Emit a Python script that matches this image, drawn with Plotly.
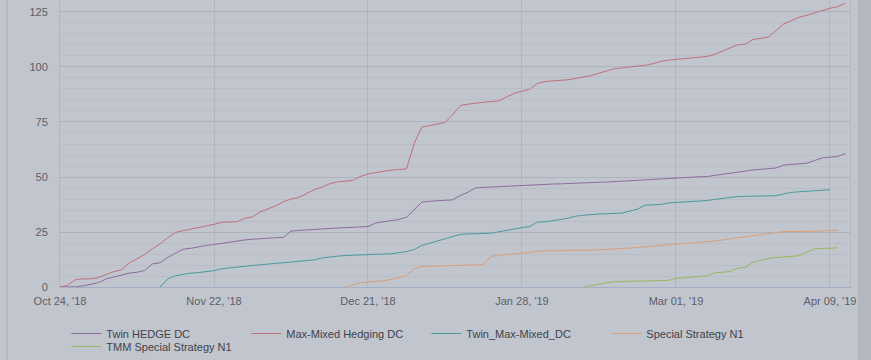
import plotly.graph_objects as go

# ---- data (ordinal axis: one point per observation index) ----
TICK_POS = [0, 20, 40, 60, 80, 100]
TICK_LABELS = ["Oct 24, '18", "Nov 22, '18", "Dec 21, '18", "Jan 28, '19", "Mar 01, '19", "Apr 09, '19"]

SERIES_NAMES = ["Twin HEDGE DC", "Max-Mixed Hedging DC", "Twin_Max-Mixed_DC",
                "Special Strategy N1", "TMM Special Strategy N1"]
SERIES_COLORS = ["#8d6c9f", "#c0707a", "#4a9a9c", "#d9a07a", "#98b85e"]
LEGEND_ROW = ["legend", "legend", "legend", "legend", "legend2"]

twin_hedge_start = 0
twin_hedge = [0, 0, 0.1, 0.5, 1.1, 2, 3.7, 4.6, 5.2, 6.3, 6.7, 7.5, 10.5, 11, 13.5, 15.4, 17.2, 17.6,
              18.4, 18.9, 19.3, 19.9, 20.5, 21.1, 21.4, 21.7, 22, 22.2, 22.4, 22.5, 25.4, 25.7, 26,
              26.2, 26.4, 26.6, 26.8, 27, 27.2, 27.3, 27.5, 29.1, 29.6, 30, 30.7, 31.7, 35, 38.6, 39,
              39.2, 39.4, 39.6, 41.6, 43.1, 45.1, 45.3, 45.5, 45.7, 45.9, 46.1, 46.3, 46.4, 46.6,
              46.7, 46.8, 46.9, 47.1, 47.3, 47.4, 47.5, 47.6, 47.7, 47.9, 48.2, 48.5, 48.8, 49,
              49.2, 49.3, 49.5, 49.6, 49.8, 49.9, 50.1, 50.2, 50.7, 51.3, 51.8, 52.4, 52.8, 53.2,
              53.5, 53.8, 54.1, 55.4, 55.7, 56, 56.3, 57.5, 58.7, 59, 59.3, 60.7]

max_mixed_start = 0
max_mixed = [0, 0.8, 3.3, 3.7, 3.7, 4.3, 5.7, 7, 7.8, 11, 12.8, 14.8, 17.4, 19.6, 22.4, 24.8, 25.6,
             26.3, 26.9, 27.7, 28.5, 29.4, 29.6, 29.7, 31.2, 31.9, 34.1, 35.4, 36.9, 38.7, 40,
             40.7, 42.4, 44.2, 45.4, 46.9, 47.8, 48, 48.4, 50.2, 51.4, 52, 52.6, 53.1, 53.4, 53.7,
             65.2, 72.8, 73.3, 74, 74.8, 78.3, 82.5, 83.1, 83.7, 84, 84.3, 84.6, 86.4, 88, 89,
             89.9, 92.5, 93.4, 93.7, 93.9, 94.2, 94.8, 95.4, 96.1, 97.2, 98.1, 99.2, 99.6, 99.9,
             100.4, 100.8, 101.5, 102.5, 103.1, 103.4, 103.7, 104, 104.5, 104.8, 105.7, 107.2,
             108.5, 110.1, 110.4, 112.5, 113, 113.6, 116.6, 119.6, 121.1, 122.6, 123.5, 124.6,
             125.7, 126.7, 127.4, 129]

twin_max_start = 13
twin_max = [0, 3.7, 5.1, 5.8, 6.3, 6.6, 6.9, 7.4, 8.3, 8.7, 9.3, 9.6, 9.8, 10.1, 10.4, 10.7, 10.8,
            11.1, 11.5, 11.9, 12.3, 13.2, 13.7, 14, 14.3, 14.5, 14.7, 14.8, 14.9, 15, 15.1, 15.5,
            16.1, 17, 18.9, 19.9, 20.9, 22, 23, 23.9, 24.1, 24.2, 24.4, 24.5, 25.1, 25.8, 26.5,
            27, 27.5, 29.5, 29.7, 30, 30.6, 31.3, 32.2, 32.6, 33, 33.2, 33.3, 33.4, 33.6, 34.5,
            35.4, 37.2, 37.3, 37.5, 38.2, 38.4, 38.6, 38.9, 39.1, 39.3, 39.8, 40.3, 40.7, 41.1,
            41.2, 41.3, 41.3, 41.4, 41.5, 42.3, 43, 43.3, 43.6, 43.8, 44, 44.2]

special_start = 37
special = [0, 1, 2, 2.2, 2.4, 2.8, 3.4, 4.2, 5.2, 8.3, 9.3, 9.4, 9.5, 9.6, 9.7, 9.8, 9.9, 10,
           10.2, 14, 14.4, 14.7, 15.1, 15.6, 16, 16.4, 16.5, 16.5, 16.5, 16.6, 16.6, 16.7, 16.8,
           16.9, 17, 17.2, 17.5, 17.7, 18, 18.3, 18.5, 18.8, 19, 19.2, 19.5, 19.8, 20.1, 20.4,
           20.9, 21.4, 21.9, 22.4, 22.9, 23.3, 23.7, 24.2, 24.7, 25.2, 25.2, 25.2, 25.2, 25.3,
           25.4, 25.6, 25.8]

tmm_start = 68
tmm = [0, 0.7, 1.4, 1.9, 2.4, 2.5, 2.6, 2.7, 2.8, 2.8, 2.9, 3, 3.9, 4.2, 4.5, 4.8, 5.1, 6.4, 6.7,
       7, 8.6, 8.9, 11.3, 12.2, 12.9, 13.4, 13.7, 14, 14.2, 15.8, 17.4, 17.5, 17.6, 17.8]

SERIES = [(twin_hedge_start, twin_hedge), (max_mixed_start, max_mixed),
          (twin_max_start, twin_max), (special_start, special), (tmm_start, tmm)]

BG = "#c1c5cd"
FONT = "Liberation Sans, Arial, sans-serif"

fig = go.Figure()
for name, color, leg, (start, vals) in zip(SERIES_NAMES, SERIES_COLORS, LEGEND_ROW, SERIES):
    fig.add_trace(go.Scatter(
        x=list(range(start, start + len(vals))), y=vals, name=name, mode="lines",
        line=dict(color=color, width=1), legend=leg, hoverinfo="x+y+name"))

legend_style = dict(orientation="h", x=0.008, xanchor="left", yanchor="top",
                    entrywidth=135, entrywidthmode="pixels", bgcolor="rgba(0,0,0,0)",
                    font=dict(family=FONT, size=11, color="#3f434a"), itemwidth=30)

fig.update_layout(
    width=871, height=360,
    margin=dict(l=60, r=21, t=0, b=73, autoexpand=False),
    paper_bgcolor=BG, plot_bgcolor=BG,
    font=dict(family=FONT, size=11, color="#5b6068"),
    showlegend=True,
    legend=dict(legend_style, y=-0.1115),
    legend2=dict(legend_style, y=-0.157),
    xaxis=dict(range=[0, 102.6], tickvals=TICK_POS, ticktext=TICK_LABELS, automargin=False,
               showgrid=True, gridcolor="#b2b6be", gridwidth=1, zeroline=False,
               showline=True, linecolor="#a4aec6", linewidth=1,
               ticks="", tickfont=dict(size=11, color="#5b6068"), ticklabelstandoff=4),
    yaxis=dict(range=[0, 130.45], tickvals=[0, 25, 50, 75, 100, 125], automargin=False,
               showgrid=True, gridcolor="#aeb2bb", gridwidth=1, zeroline=False,
               showline=True, linecolor="#b4b8c0", mirror=True,
               ticks="", tickfont=dict(size=11, color="#5b6068"), ticklabelstandoff=9,
               minor=dict(dtick=5, showgrid=True, gridcolor="#b9bdc5", gridwidth=1)),
    shapes=[
        dict(type="line", xref="paper", yref="paper", x0=-0.0671, x1=-0.0671, y0=-0.26, y1=1.0,
             line=dict(color="#acb0b8", width=1)),
        dict(type="rect", xref="paper", yref="paper", x0=1.0101, x1=1.03, y0=-0.26, y1=1.0,
             fillcolor="#b3b7bf", line=dict(width=0), layer="below"),
    ],
)

fig.write_html("out.html", config={"displayModeBar": False},
               post_script="document.body.style.margin='0';document.body.style.overflow='hidden';")
